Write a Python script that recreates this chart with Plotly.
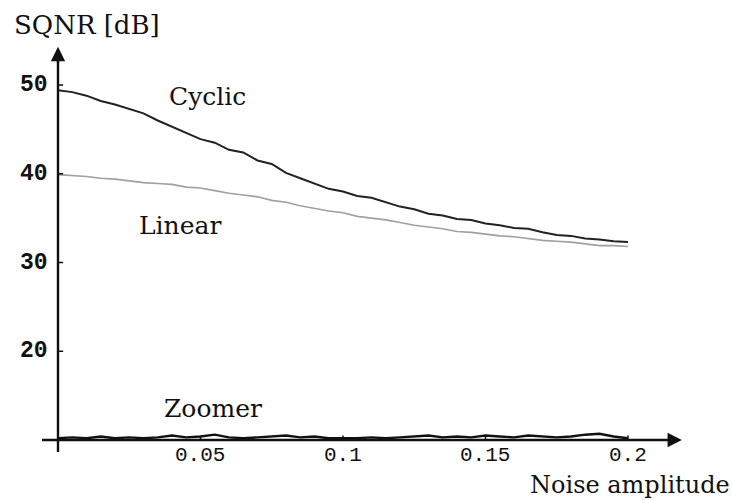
import plotly.graph_objects as go

noise_amp = [0.000, 0.005, 0.010, 0.015, 0.020, 0.025, 0.030, 0.035, 0.040, 0.045,
             0.050, 0.055, 0.060, 0.065, 0.070, 0.075, 0.080, 0.085, 0.090, 0.095,
             0.100, 0.105, 0.110, 0.115, 0.120, 0.125, 0.130, 0.135, 0.140, 0.145,
             0.150, 0.155, 0.160, 0.165, 0.170, 0.175, 0.180, 0.185, 0.190, 0.195,
             0.200]

cyclic = [49.4, 49.2, 48.8, 48.2, 47.8, 47.3, 46.8, 46.0, 45.3, 44.6,
          43.9, 43.5, 42.7, 42.4, 41.5, 41.1, 40.1, 39.5, 38.9, 38.3,
          38.0, 37.5, 37.3, 36.8, 36.3, 36.0, 35.5, 35.3, 34.9, 34.8,
          34.4, 34.2, 33.9, 33.8, 33.4, 33.1, 33.0, 32.7, 32.6, 32.4,
          32.3]

linear = [39.9, 39.8, 39.7, 39.5, 39.4, 39.2, 39.0, 38.9, 38.8, 38.5,
          38.4, 38.1, 37.8, 37.6, 37.4, 37.0, 36.8, 36.4, 36.1, 35.8,
          35.6, 35.2, 35.0, 34.8, 34.5, 34.2, 34.0, 33.8, 33.5, 33.4,
          33.2, 33.0, 32.9, 32.7, 32.5, 32.4, 32.3, 32.1, 31.9, 31.9,
          31.8]

zoomer = [10.2, 10.3, 10.2, 10.4, 10.2, 10.3, 10.2, 10.3, 10.5, 10.3,
          10.4, 10.6, 10.3, 10.2, 10.3, 10.4, 10.5, 10.3, 10.4, 10.2,
          10.2, 10.2, 10.3, 10.2, 10.3, 10.4, 10.5, 10.3, 10.4, 10.3,
          10.5, 10.4, 10.3, 10.5, 10.4, 10.3, 10.4, 10.6, 10.7, 10.4,
          10.2]

x_ticks = [0.05, 0.1, 0.15, 0.2]
x_tick_labels = ["0.05", "0.1", "0.15", "0.2"]
y_ticks = [20, 30, 40, 50]
y_tick_labels = ["20", "30", "40", "50"]

series_labels = [("Cyclic", 0.0523, 48.7), ("Linear", 0.0428, 34.2), ("Zoomer", 0.0544, 13.6)]

X0, Y0 = 0.0, 10.0
X_END, Y_END = 0.2189, 54.3
X_START, Y_START = -0.0056, 8.65

fig = go.Figure()
fig.add_trace(go.Scatter(x=noise_amp, y=linear, mode="lines",
                         line=dict(color="#a0a0a0", width=1.6), hoverinfo="skip"))
fig.add_trace(go.Scatter(x=noise_amp, y=cyclic, mode="lines",
                         line=dict(color="#222222", width=2), hoverinfo="skip"))
fig.add_trace(go.Scatter(x=noise_amp, y=zoomer, mode="lines",
                         line=dict(color="#111111", width=2.4), hoverinfo="skip"))

shapes = []
anns = []
# axis lines
shapes.append(dict(type="line", xref="x", yref="y", x0=X_START, x1=X_END - 0.003, y0=Y0, y1=Y0,
                   line=dict(color="#111", width=2.4)))
shapes.append(dict(type="line", xref="x", yref="y", x0=X0, x1=X0, y0=Y_START, y1=Y_END - 0.8,
                   line=dict(color="#111", width=2.4)))
# arrowheads
anns.append(dict(x=X_END, y=Y0, ax=-18, ay=0, xref="x", yref="y",
                 text="", showarrow=True, arrowhead=2, arrowsize=1.3, arrowwidth=2.2,
                 arrowcolor="#111", standoff=0))
anns.append(dict(x=X0, y=Y_END, ax=0.001, ay=18, xref="x", yref="y",
                 text="", showarrow=True, arrowhead=2, arrowsize=1.3, arrowwidth=2.2,
                 arrowcolor="#111", standoff=0))

for v, t in zip(y_ticks, y_tick_labels):
    shapes.append(dict(type="line", xref="x", yref="y", x0=X0, x1=X0 + 0.0018, y0=v, y1=v,
                       line=dict(color="#111", width=1.5)))
    anns.append(dict(x=X0 - 0.0028, y=v, xref="x", yref="y", text=t, showarrow=False,
                     xanchor="right", yanchor="middle",
                     font=dict(family="Liberation Mono", size=23, color="#111", weight="bold")))

for v, t in zip(x_ticks, x_tick_labels):
    shapes.append(dict(type="line", xref="x", yref="y", x0=v, x1=v, y0=Y0, y1=Y0 + 0.5,
                       line=dict(color="#111", width=1.5)))
    anns.append(dict(x=v, y=Y0 - 0.35, xref="x", yref="y", text=t, showarrow=False,
                     xanchor="center", yanchor="top", borderpad=0,
                     font=dict(family="Liberation Mono", size=21, color="#111")))

for t, xv, yv in series_labels:
    anns.append(dict(x=xv, y=yv, xref="x", yref="y", text=t, showarrow=False,
                     xanchor="center", yanchor="middle",
                     font=dict(family="DejaVu Serif", size=25, color="#111")))

anns.append(dict(x=12 / 732, y=1 - 8 / 500, xref="paper", yref="paper", text="SQNR [dB]", showarrow=False,
                 xanchor="left", yanchor="top",
                 font=dict(family="DejaVu Serif", size=26, color="#111")))
anns.append(dict(x=731 / 732, y=0.0, xref="paper", yref="paper", text="Noise amplitude",
                 showarrow=False, xanchor="right", yanchor="bottom", borderpad=0,
                 font=dict(family="DejaVu Serif", size=24, color="#111")))

fig.update_layout(
    width=732, height=500,
    margin=dict(l=0, r=0, t=0, b=0),
    paper_bgcolor="white", plot_bgcolor="white",
    showlegend=False,
    shapes=shapes, annotations=anns,
    xaxis=dict(range=[-0.02035, 0.2365], visible=False, fixedrange=True),
    yaxis=dict(range=[3.24, 59.58], visible=False, fixedrange=True),
)

fig.write_html("out.html")
